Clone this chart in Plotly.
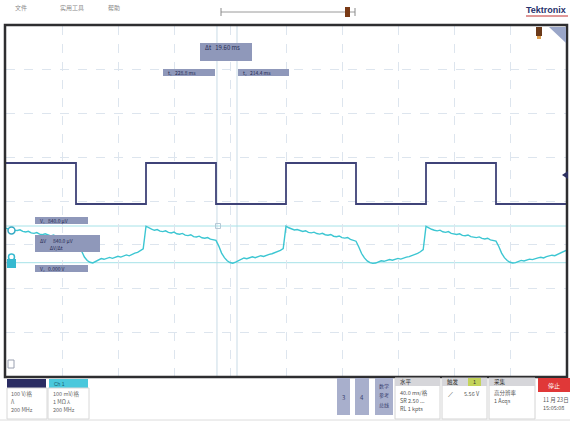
import plotly.graph_objects as go

W, H = 570, 422

# ---------------- data ----------------
# Ch2 square wave (V): edge times (ms) and level that starts at each edge
sq_edges_ms = [0, 50, 100, 150, 200, 250, 300, 350, 400]
sq_levels_v = [12, 0, 12, 0, 12, 0, 12, 0, 0]

# Ch1 trace (µV), sampled every 2 ms from 0 to 400 ms
cyan_t_ms = [2 * i for i in range(201)]
cyan_uv = [
    # 0 .. 50
    790, 770, 778, 745, 738, 752, 715, 702, 718, 684, 672, 690, 655,
    640, 660, 628, 615, 632, 598, 588, 605, 572, 560, 578, 545, 530,
    # 52 .. 98
    400, 250, 130, 50, 10, -5, 25, 60, 95, 78, 108, 122,
    100, 132, 148, 128, 160, 178, 158, 195, 218, 235, 275, 320,
    # 100 .. 150
    835, 795, 768, 742, 758, 722, 712, 730, 695, 680, 700, 662, 652,
    670, 632, 620, 640, 598, 590, 608, 570, 560, 576, 540, 525, 510,
    # 152 .. 198
    380, 220, 115, 45, 5, -12, 12, 48, 88, 108, 92, 120,
    135, 115, 145, 160, 142, 175, 190, 205, 228, 250, 282, 322,
    # 200 .. 250
    838, 800, 772, 748, 760, 728, 715, 732, 694, 684, 700, 668, 655,
    672, 640, 628, 645, 606, 595, 612, 575, 562, 578, 535, 512, 492,
    # 252 .. 298
    360, 210, 110, 42, 2, -15, -8, 22, 45, 32, 58, 74,
    56, 85, 98, 82, 112, 128, 140, 162, 186, 215, 250, 302,
    # 300 .. 350
    832, 792, 765, 742, 728, 745, 708, 694, 712, 672, 658, 646, 662,
    626, 616, 634, 596, 584, 574, 590, 556, 544, 560, 524, 508, 494,
    # 352 .. 400
    372, 220, 115, 50, 10, -6, 2, 26, 52, 40, 66, 82,
    70, 96, 112, 124, 108, 138, 152, 172, 160, 192, 212, 242, 282,
]

cursor_t_ms = [150.7, 165.0]
cursor_v_uv = [840.0, 0.0]
trigger_level_v = 8.5

menu_items = ["文件", "实用工具", "帮助"]
cursor_texts = ["Δt   19.60 ms", "t₁   228.8 ms", "t₂   214.4 ms",
                "V₁   840.0 µV", "ΔV      840.0 µV<br>ΔV/Δt", "V₂   0.000 V"]
ch2_lines = ["100 V/格", "Λ", "200 MHz"]
ch1_lines = ["100 mV/格", "1 MΩ ⅄", "200 MHz"]
horiz_lines = ["40.0 ms/格", "SR 2.50 ...", "RL 1 kpts"]
acq_lines = ["高分辨率", "1 Acqs"]
date_lines = ["11 月 23日", "15:05:08"]

# ---------------- figure ----------------
SQ_COLOR = "#3f4378"
CY_COLOR = "#3cc6d2"
CJK = "Noto Sans CJK SC"


def px(x):
    return x / W


def py(y):
    return 1 - y / H


# plot box in pixels
X0, X1, Y0, Y1 = 6, 566, 26, 376

sq_pxv = 41 / 12.0
sq_range = [-(Y1 - 204) / sq_pxv, (204 - Y0) / sq_pxv]
cy_pxuv = 840.0 / 36.7
cy_range = [-(Y1 - 262.7) * cy_pxuv, (262.7 - Y0) * cy_pxuv]
div_y = (sq_range[1] - sq_range[0]) / 8
y_grid = [sq_range[0] + k * div_y for k in range(1, 8)]

fig = go.Figure()
fig.add_trace(go.Scatter(x=sq_edges_ms, y=sq_levels_v, mode="lines", line_shape="hv",
                         line=dict(color=SQ_COLOR, width=1.8), yaxis="y",
                         showlegend=False, hoverinfo="skip"))
fig.add_trace(go.Scatter(x=cyan_t_ms, y=cyan_uv, mode="lines",
                         line=dict(color=CY_COLOR, width=1.4), yaxis="y2",
                         showlegend=False, hoverinfo="skip"))

shapes = []
ann = []


def rect(x0, y0, x1, y1, fill, line="rgba(0,0,0,0)", lw=0):
    shapes.append(dict(type="rect", xref="paper", yref="paper",
                       x0=px(x0), x1=px(x1), y0=py(y1), y1=py(y0),
                       fillcolor=fill, line=dict(color=line, width=lw),
                       layer="above"))


def text(x, y, s, size=6, color="#555", anchor="left", family=CJK, bold=False):
    if bold:
        s = "<b>" + s + "</b>"
    ann.append(dict(x=px(x), y=py(y), xref="paper", yref="paper", text=s,
                    showarrow=False, xanchor=anchor, yanchor="middle",
                    font=dict(size=size, color=color, family=family)))


# cursor lines (data coordinates)
for t in cursor_t_ms:
    shapes.append(dict(type="line", xref="x", yref="paper", x0=t, x1=t,
                       y0=py(Y1), y1=py(Y0), line=dict(color="#c9dbe6", width=1),
                       layer="below"))
for v in cursor_v_uv:
    shapes.append(dict(type="line", xref="paper", yref="y2", x0=px(X0), x1=px(X1),
                       y0=v, y1=v, line=dict(color="#a6e2e8", width=1),
                       layer="below"))

# plot border
shapes.append(dict(type="rect", xref="paper", yref="paper", x0=px(X0 - 1), x1=px(X1 + 1),
                   y0=py(Y1 + 1), y1=py(Y0 - 1), line=dict(color="#2e2e30", width=2.5),
                   fillcolor="rgba(0,0,0,0)", layer="above"))

# cursor readout boxes
BOX = "#8f98ba"
TXT = "#262a52"
rect(200, 43, 252, 61, BOX)
text(203, 48, cursor_texts[0], color=TXT)
rect(163, 69, 215, 76, BOX)
text(166, 72.5, cursor_texts[1], color=TXT, size=5)
rect(238, 69, 289, 76, BOX)
text(241, 72.5, cursor_texts[2], color=TXT, size=5)
rect(35, 217, 88, 224, BOX)
text(38, 220.5, cursor_texts[3], color=TXT, size=5)
rect(35, 235, 100, 252, BOX)
text(38, 243.5, cursor_texts[4], color=TXT, size=5)
rect(35, 265, 88, 272, BOX)
text(38, 268.5, cursor_texts[5], color=TXT, size=5)

rect(215.5, 223.5, 220.5, 228.5, "rgba(0,0,0,0)", "#b5c9d6", 1)

# left channel markers
shapes.append(dict(type="circle", xref="paper", yref="paper", x0=px(8), x1=px(15),
                   y0=py(234), y1=py(227), line=dict(color="#36a9c4", width=1.5),
                   fillcolor="white", layer="above"))
shapes.append(dict(type="circle", xref="paper", yref="paper", x0=px(8.5), x1=px(14.5),
                   y0=py(260), y1=py(254), line=dict(color="#36b9d0", width=1.5),
                   fillcolor="rgba(0,0,0,0)", layer="above"))
rect(7, 259, 16, 268, "#36b9d0")
rect(8, 360, 14, 368, "white", "#9aa0b0", 1)
shapes.append(dict(type="path", xref="paper", yref="paper",
                   path=f"M {px(562)} {py(175)} L {px(568)} {py(171)} L {px(568)} {py(179)} Z",
                   fillcolor="#2e3160", line=dict(width=0), layer="above"))
rect(536, 27, 542, 36, "#6b3a1a")
rect(537, 36, 541, 39, "#e0a050")
shapes.append(dict(type="path", xref="paper", yref="paper",
                   path=f"M {px(549)} {py(27)} L {px(566)} {py(27)} L {px(566)} {py(43)} Z",
                   fillcolor="#9aa6c8", line=dict(width=0), layer="above"))

# top bar
text(13, 8, menu_items[0], color="#8a8a8a")
text(58, 8, menu_items[1], color="#8a8a8a")
text(106, 8, menu_items[2], color="#8a8a8a")
shapes.append(dict(type="line", xref="paper", yref="paper", x0=px(221), x1=px(355),
                   y0=py(12), y1=py(12), line=dict(color="#9a9a9a", width=1)))
for xx in (221, 355):
    shapes.append(dict(type="line", xref="paper", yref="paper", x0=px(xx), x1=px(xx),
                       y0=py(8), y1=py(16), line=dict(color="#8a8a8a", width=1)))
rect(345, 7, 350, 17, "#7a3a16")
text(568, 10, "Tektronix", size=9, color="#27306b", anchor="right",
     family="Liberation Sans", bold=True)
shapes.append(dict(type="line", xref="paper", yref="paper", x0=px(526), x1=px(568),
                   y0=py(16), y1=py(16), line=dict(color="#c03030", width=1)))

# bottom: channel badges
rect(7, 379, 46, 388, "#2a2c62")
rect(49, 379, 88, 388, "#4ac8dc")
text(52, 383.5, "Ch 1", color="#1b5c70", size=5, family="Liberation Sans")
rect(7, 388, 47, 419, "rgba(0,0,0,0)", "#d8d8d8", 1)
rect(48, 388, 89, 419, "rgba(0,0,0,0)", "#d8d8d8", 1)
for i, s in enumerate(ch2_lines):
    text(9, 394 + i * 8, s, size=5.5, color="#666")
for i, s in enumerate(ch1_lines):
    text(51, 394 + i * 8, s, size=5.5, color="#666")

# bottom right panels
PB = "#a8afcc"
rect(337, 378, 350, 415, PB)
text(343.5, 397, "3", size=6, color="#3a3f70", anchor="center")
rect(355, 378, 369, 415, PB)
text(362, 397, "4", size=6, color="#3a3f70", anchor="center")
rect(375, 378, 393, 415, PB)
for i, s in enumerate(["数学", "参考", "总线"]):
    text(384, 386 + i * 9, s, size=5, color="#3a3f70", anchor="center")

for (a, b, title) in ((395, 440, "水平"), (442, 487, "触发"), (489, 535, "采集")):
    rect(a, 378, b, 419, "white", "#d4d4d4", 1)
    rect(a, 378, b, 386, "#d6d6da")
    text(a + 3, 382, title, size=5.5, color="#333")
rect(468, 378, 481, 386, "#c3d35a")
text(474.5, 382, "1", size=5.5, color="#333", anchor="center")
for i, s in enumerate(horiz_lines):
    text(398, 393 + i * 8, s, size=5.5, color="#555")
text(446, 394, "⟋", size=7, color="#444")
text(462, 394, "5.56 V", size=5.5, color="#555")
for i, s in enumerate(acq_lines):
    text(492, 393 + i * 8, s, size=5.5, color="#555")
rect(538, 378, 570, 392, "#e03838")
text(554, 385, "停止", size=6, color="white", anchor="center")
for i, s in enumerate(date_lines):
    text(541, 400 + i * 8, s, size=5.5, color="#555")
shapes.append(dict(type="line", xref="paper", yref="paper", x0=0, x1=1,
                   y0=py(420), y1=py(420), line=dict(color="#dcdcdc", width=1)))

fig.update_layout(
    width=W, height=H, margin=dict(l=0, r=0, t=0, b=0),
    paper_bgcolor="white", plot_bgcolor="white",
    xaxis=dict(domain=[px(X0), px(X1)], range=[0, 400], dtick=40, tick0=0,
               showgrid=True, gridcolor="#dde5ee", griddash="dash", gridwidth=1,
               zeroline=False, showticklabels=False, ticks="", showline=False,
               fixedrange=True),
    yaxis=dict(domain=[py(Y1), py(Y0)], range=sq_range, tickmode="array",
               tickvals=y_grid, showgrid=True, gridcolor="#dde5ee", griddash="dash",
               zeroline=False, showticklabels=False, ticks="", showline=False,
               fixedrange=True),
    yaxis2=dict(domain=[py(Y1), py(Y0)], range=cy_range, overlaying="y",
                showgrid=False, zeroline=False, showticklabels=False, ticks="",
                showline=False, fixedrange=True),
    shapes=shapes, annotations=ann, showlegend=False,
)

fig.write_html("out.html", config={"displayModeBar": False},
               post_script="document.body.style.margin='0';document.body.style.overflow='hidden';")
